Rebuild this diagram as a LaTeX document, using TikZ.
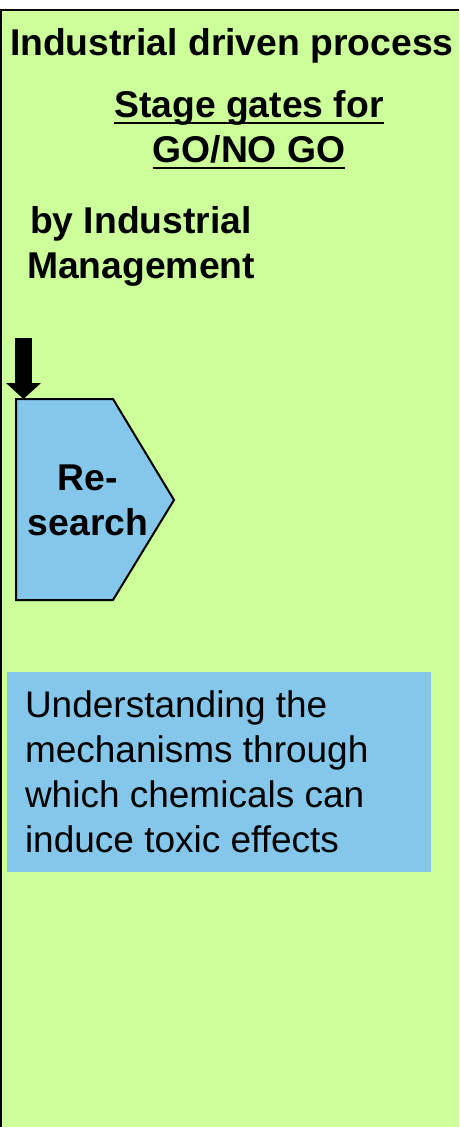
\documentclass[tikz,border=0pt]{standalone}
\usepackage{fontspec}
\setmainfont{Liberation Sans}
\usetikzlibrary{arrows.meta}
\definecolor{panelgreen}{RGB}{204,255,153}
\definecolor{stageblue}{RGB}{133,199,234}
\begin{document}
\begin{tikzpicture}[x=1pt,y=-1pt,
  boldtxt/.style={font=\fontsize{37.3}{45}\selectfont\bfseries, inner sep=0pt, outer sep=0pt},
  plaintxt/.style={font=\fontsize{37}{45}\selectfont, inner sep=0pt, outer sep=0pt, anchor=base west},
  ulinestyle/.style={line width=2.5pt},
  stageshape/.style={fill=stageblue, draw=black, line width=2pt, line join=miter},
  blockarrow/.style={line width=17pt, -{Triangle[length=16pt,width=34pt]}},
]
\useasboundingbox (0,0) rectangle (459,1127);
\fill[white] (0,0) rectangle (459,1127);
\fill[panelgreen] (1,10) rectangle (459,1127);
\draw[line width=2pt] (1,1127) -- (1,10) -- (459,10);

% header texts
\node[boldtxt, anchor=base west] (title) at (10,55) {Industrial driven process};
\node[boldtxt, anchor=base] (stage) at (249,117) {Stage gates for};
\node[boldtxt, anchor=base] (gonogo) at (249,162) {GO/NO GO};
\draw[ulinestyle] ([yshift=-6pt]stage.base west) -- ([yshift=-6pt]stage.base east);
\draw[ulinestyle] ([yshift=-6pt]gonogo.base west) -- ([yshift=-6pt]gonogo.base east);
\node[boldtxt, anchor=base] (byind) at (141,233) {by Industrial};
\node[boldtxt, anchor=base] (mgmt) at (141,278) {Management};

% research stage
\draw[stageshape] (16,399) -- (113,399) -- (174,500) -- (113,600) -- (16,600) -- cycle;
\coordinate (stagetop) at (23.5,399);
\coordinate (arrowstart) at (23.5,338);
\draw[blockarrow] (arrowstart) -- (stagetop);
\node[boldtxt, anchor=base] (re) at (88,490) {Re-};
\node[boldtxt, anchor=base] (search) at (88,535) {search};

% mechanism box
\node[fill=stageblue, minimum width=424pt, minimum height=200pt, anchor=north west, inner sep=0pt] (mechbox) at (7,672) {};
\node[plaintxt] (m1) at (25,717) {Understanding the};
\node[plaintxt] (m2) at (25,762) {mechanisms through};
\node[plaintxt] (m3) at (25,807) {which chemicals can};
\node[plaintxt] (m4) at (25,852) {induce toxic effects};
\end{tikzpicture}
\end{document}
